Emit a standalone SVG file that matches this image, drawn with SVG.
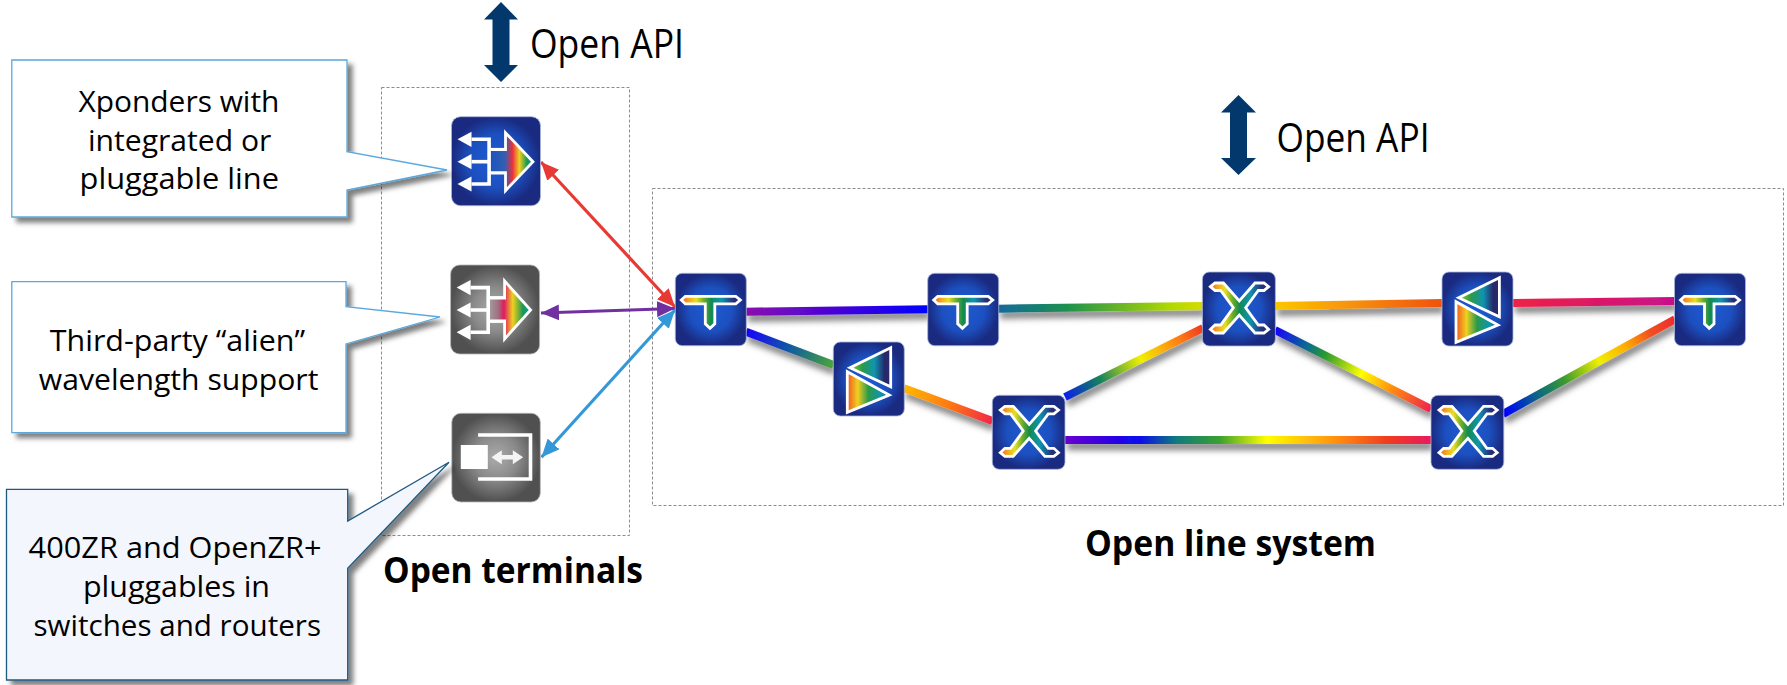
<svg xmlns="http://www.w3.org/2000/svg" xmlns:xlink="http://www.w3.org/1999/xlink" width="1787" height="685" viewBox="0 0 1787 685">
<style>
text{font-family:"Open Sans","Noto Sans","Liberation Sans",sans-serif;fill:#000}
.c{font-size:30px}
.a{font-size:40px}
.b{font-size:36px;font-weight:700}
.dash{fill:none;stroke:#8c8c8c;stroke-width:1;stroke-dasharray:3 2}
.blue{fill:url(#nb);stroke:#a9b6d8;stroke-width:.8}
.gray{fill:url(#ng);stroke:#b5b5b5;stroke-width:.8}
.rb{fill:none;stroke-width:8}
.ic{stroke:#fff;stroke-width:2.8;stroke-linejoin:miter}
.wl{fill:none;stroke:#fff;stroke-width:3.6}
.w{fill:#fff}
.call{stroke-width:1.3;filter:url(#cs)}
.thin{stroke-width:3.2;fill:none}
</style>
<defs>
<radialGradient id="nb"><stop offset="0" stop-color="#1e5ad2"/><stop offset=".6" stop-color="#1c50c0"/><stop offset="1" stop-color="#1a2a80"/></radialGradient>
<radialGradient id="ng"><stop offset="0" stop-color="#ababab"/><stop offset=".5" stop-color="#8a8a8a"/><stop offset="1" stop-color="#505050"/></radialGradient>
<linearGradient id="sp"><stop offset="0" stop-color="#f0561e"/><stop offset=".1" stop-color="#f49a1e"/><stop offset=".25" stop-color="#e8e020"/><stop offset=".38" stop-color="#6fae2a"/><stop offset=".5" stop-color="#128a50"/><stop offset=".68" stop-color="#1094b0"/><stop offset=".88" stop-color="#26307a"/><stop offset="1" stop-color="#2a2a6a"/></linearGradient>
<linearGradient id="up"><stop offset="0" stop-color="#a0c820"/><stop offset=".3" stop-color="#2a9a4a"/><stop offset=".6" stop-color="#1094b0"/><stop offset=".85" stop-color="#26286a"/><stop offset="1" stop-color="#2a2a6a"/></linearGradient>
<linearGradient id="lo"><stop offset="0" stop-color="#f0561e"/><stop offset=".25" stop-color="#f0d020"/><stop offset=".5" stop-color="#2a9a4a"/><stop offset=".8" stop-color="#1094b0"/><stop offset="1" stop-color="#1c5ab0"/></linearGradient>
<linearGradient id="xb" gradientUnits="userSpaceOnUse" x1="38" y1="0" x2="82" y2="0"><stop offset="0" stop-color="#1c52c0"/><stop offset=".35" stop-color="#3060b0"/><stop offset=".52" stop-color="#e83040"/><stop offset=".68" stop-color="#f0d020"/><stop offset=".85" stop-color="#1a9a50"/><stop offset="1" stop-color="#1490c0"/></linearGradient>
<linearGradient id="xg" gradientUnits="userSpaceOnUse" x1="38" y1="0" x2="82" y2="0"><stop offset="0" stop-color="#a0a0a0"/><stop offset=".22" stop-color="#a07080"/><stop offset=".35" stop-color="#e01a60"/><stop offset=".55" stop-color="#f0d020"/><stop offset=".78" stop-color="#1a9a50"/><stop offset="1" stop-color="#1490d0"/></linearGradient>

<linearGradient id="r1" gradientUnits="userSpaceOnUse" x1="746" y1="0" x2="1676" y2="0"><stop offset="0" stop-color="#8a0ab0"/><stop offset=".196" stop-color="#0000ff"/><stop offset=".273" stop-color="#146a9a"/><stop offset=".344" stop-color="#1c9050"/><stop offset=".456" stop-color="#b0d800"/><stop offset=".53" stop-color="#ffe000"/><stop offset=".75" stop-color="#f05010"/><stop offset=".826" stop-color="#ee2244"/><stop offset="1" stop-color="#c8108c"/></linearGradient>
<linearGradient id="r2" gradientUnits="userSpaceOnUse" x1="746" y1="331" x2="833" y2="365"><stop offset="0" stop-color="#1a00ff"/><stop offset=".5" stop-color="#0f5aa0"/><stop offset="1" stop-color="#4aa53a"/></linearGradient>
<linearGradient id="r3" gradientUnits="userSpaceOnUse" x1="904" y1="388" x2="992" y2="421"><stop offset="0" stop-color="#ffb800"/><stop offset=".5" stop-color="#ff7a10"/><stop offset="1" stop-color="#f02848"/></linearGradient>
<linearGradient id="r4" gradientUnits="userSpaceOnUse" x1="1065" y1="397" x2="1202" y2="328"><stop offset="0" stop-color="#0a20e8"/><stop offset=".25" stop-color="#138060"/><stop offset=".55" stop-color="#f0f000"/><stop offset=".8" stop-color="#ff8a10"/><stop offset="1" stop-color="#f03a20"/></linearGradient>
<linearGradient id="r5" gradientUnits="userSpaceOnUse" x1="1065" y1="0" x2="1432" y2="0"><stop offset="0" stop-color="#6a00d0"/><stop offset=".2" stop-color="#0808f0"/><stop offset=".3" stop-color="#107880"/><stop offset=".42" stop-color="#3aa030"/><stop offset=".55" stop-color="#ffff00"/><stop offset=".75" stop-color="#ff8810"/><stop offset=".88" stop-color="#f03a20"/><stop offset="1" stop-color="#e81a60"/></linearGradient>
<linearGradient id="r6" gradientUnits="userSpaceOnUse" x1="1275" y1="330" x2="1432" y2="409"><stop offset="0" stop-color="#1a00ff"/><stop offset=".2" stop-color="#0a6a90"/><stop offset=".32" stop-color="#2a9a30"/><stop offset=".55" stop-color="#ffff00"/><stop offset=".75" stop-color="#ff8a10"/><stop offset="1" stop-color="#ee2050"/></linearGradient>
<linearGradient id="r7" gradientUnits="userSpaceOnUse" x1="1505" y1="414" x2="1676" y2="319"><stop offset="0" stop-color="#0000ff"/><stop offset=".2" stop-color="#0a6a80"/><stop offset=".35" stop-color="#3a9a30"/><stop offset=".55" stop-color="#f0f000"/><stop offset=".7" stop-color="#ffb000"/><stop offset=".85" stop-color="#f05020"/><stop offset="1" stop-color="#ee2a30"/></linearGradient>

<filter id="ls" x="-5%" y="-20%" width="110%" height="140%"><feDropShadow dx="2" dy="6" stdDeviation="3" flood-color="#000" flood-opacity=".5"/></filter>
<filter id="cs" x="-5%" y="-5%" width="115%" height="115%"><feDropShadow dx="5" dy="5" stdDeviation="2.5" flood-color="#000" flood-opacity=".5"/></filter>

<marker id="mr" markerUnits="userSpaceOnUse" markerWidth="20" markerHeight="16" refX="18" refY="8" orient="auto-start-reverse"><path d="M0 0L18 8L0 16Z" fill="#e83a34"/></marker>
<marker id="mp" markerUnits="userSpaceOnUse" markerWidth="20" markerHeight="16" refX="18" refY="8" orient="auto-start-reverse"><path d="M0 0L18 8L0 16Z" fill="#7030a0"/></marker>
<marker id="mb" markerUnits="userSpaceOnUse" markerWidth="20" markerHeight="16" refX="18" refY="8" orient="auto-start-reverse"><path d="M0 0L18 8L0 16Z" fill="#3498d8"/></marker>

<polygon id="ti" class="ic" fill="url(#sp)" points="6,26.7 10,23 60.5,23 65,26.7 60.5,30.5 39.5,30.5 39.5,50.5 34.7,55 30,50.5 30,30.5 10,30.5"/>
<polygon id="xi" class="ic" fill="url(#sp)" points="8,14.7 12.6,11 21,11 36.9,29 52.6,11 61.6,11 66.2,14.7 61.6,18.5 55.9,18.5 43.3,35.7 55.9,53 61.6,53 66.2,57.3 61.6,61 52.6,61 36.9,43 20.9,61 12.6,61 8,57.3 12.6,53 18.3,53 30.9,35.7 18.3,18.5 12.6,18.5"/>
<g id="ai"><polygon class="ic" fill="url(#up)" points="57.4,5.7 57.4,44.7 16.7,25.7"/><polygon class="ic" fill="url(#lo)" points="14,29.7 14,70.3 56,53"/></g>
<g id="wa"><polyline class="wl" points="20,22.6 37.6,22.6 37.6,67.3 20,67.3"/><line class="wl" x1="20" y1="45" x2="37.6" y2="45"/><line class="wl" x1="37.6" y1="33" x2="54" y2="33"/><line class="wl" x1="37.6" y1="56" x2="54" y2="56"/><polygon class="w" points="6,22.6 20,15 20,30.2"/><polygon class="w" points="6,45 20,37.4 20,52.6"/><polygon class="w" points="6,67.3 20,59.7 20,74.9"/></g>
</defs>

<rect width="1787" height="685" fill="#fff"/>
<rect class="dash" x="381.5" y="87.5" width="248" height="448"/>
<rect class="dash" x="652.5" y="188.5" width="1131" height="317"/>

<g id="connectors">
<g filter="url(#ls)">
<line class="rb" x1="746" y1="311.7" x2="928" y2="309.3" stroke="url(#r1)"/>
<line class="rb" x1="998" y1="308.7" x2="1203" y2="306" stroke="url(#r1)"/>
<line class="rb" x1="1275" y1="306" x2="1442" y2="303" stroke="url(#r1)"/>
<line class="rb" x1="1513" y1="303" x2="1675" y2="301" stroke="url(#r1)"/>
<line class="rb" x1="746" y1="331.7" x2="833.5" y2="365" stroke="url(#r2)"/>
<line class="rb" x1="904" y1="388.3" x2="992.5" y2="421" stroke="url(#r3)"/>
<line class="rb" x1="1065" y1="397" x2="1203" y2="328" stroke="url(#r4)"/>
<line class="rb" x1="1065" y1="440" x2="1431" y2="440" stroke="url(#r5)"/>
<line class="rb" x1="1275" y1="330" x2="1431" y2="409" stroke="url(#r6)"/>
<line class="rb" x1="1503" y1="414" x2="1675" y2="319.3" stroke="url(#r7)"/>
</g>
<line class="thin" x1="541" y1="162" x2="675" y2="307" stroke="#e83a34" marker-start="url(#mr)" marker-end="url(#mr)"/>
<line class="thin" x1="541" y1="313" x2="675" y2="308.5" stroke="#7030a0" marker-start="url(#mp)" marker-end="url(#mp)"/>
<line class="thin" x1="541.5" y1="457.3" x2="675" y2="310" stroke="#3498d8" marker-start="url(#mb)" marker-end="url(#mb)"/>
</g>

<g id="api-arrow-1"><polygon fill="#03386c" points="501,2 518,19.5 509.5,19.5 509.5,65 518,65 501,82 484,65 492.5,65 492.5,19.5 484,19.5"/></g>
<text class="a" x="530" y="58" textLength="154" lengthAdjust="spacingAndGlyphs">Open API</text>
<g id="api-arrow-2"><polygon fill="#03386c" points="1238.5,95 1256,112.5 1247,112.5 1247,158 1256,158 1238.5,175 1221,158 1230,158 1230,112.5 1221,112.5"/></g>
<text class="a" x="1276.5" y="152" textLength="153" lengthAdjust="spacingAndGlyphs">Open API</text>

<g id="node-xponder" transform="translate(451.5 116.7)"><rect class="blue" width="89" height="89" rx="9"/><use href="#wa"/><polygon class="ic" fill="url(#xb)" points="38,33 54,33 54,16 81.5,45 54,74 54,56 38,56"/></g>
<g id="node-alien" transform="translate(450.6 265)"><rect class="gray" width="89" height="89" rx="9"/><use href="#wa"/><polygon class="ic" fill="url(#xg)" points="38,33 54,33 54,16 80,45 54,74 54,56 38,56"/></g>
<g id="node-pluggable" transform="translate(451.8 413.3)"><rect class="gray" width="88.5" height="88.7" rx="9"/><polyline class="wl" stroke="#f2f2f2" points="26.3,21.7 78.7,21.7 78.7,65.7 26.3,65.7"/><rect class="w" x="9" y="31.7" width="27" height="24"/><polygon fill="#f4f4f4" points="39.7,44 50,37 50,41.8 61,41.8 61,37 71.3,44 61,51 61,46.2 50,46.2 50,51"/></g>

<g id="node-t1" transform="translate(675.3 273.3)"><rect class="blue" width="71" height="72.4" rx="7"/><use href="#ti"/></g>
<g id="node-t2" transform="translate(927.7 273.3)"><rect class="blue" width="71" height="72.4" rx="7"/><use href="#ti"/></g>
<g id="node-t3" transform="translate(1674.5 273.3)"><rect class="blue" width="71" height="72.4" rx="7"/><use href="#ti"/></g>
<g id="node-amp1" transform="translate(833.3 342)"><rect class="blue" width="71" height="74" rx="7"/><use href="#ai"/></g>
<g id="node-amp2" transform="translate(1442 272)"><rect class="blue" width="71" height="74" rx="7"/><use href="#ai"/></g>
<g id="node-x1" transform="translate(992.3 395.3)"><rect class="blue" width="72.7" height="74" rx="7"/><use href="#xi"/></g>
<g id="node-x2" transform="translate(1202.4 272)"><rect class="blue" width="73" height="74" rx="7"/><use href="#xi"/></g>
<g id="node-x3" transform="translate(1431 395.3)"><rect class="blue" width="72.8" height="74" rx="7"/><use href="#xi"/></g>

<g id="callout-xponders">
<polygon class="call" fill="#fff" stroke="#5aa8dc" points="11.8,60 347,60 347,151.7 447,170 347,190 347,217 11.8,217"/>
<text class="c" x="78.4" y="112" textLength="201" lengthAdjust="spacingAndGlyphs">Xponders with</text>
<text class="c" x="88" y="150.5" textLength="183.4" lengthAdjust="spacingAndGlyphs">integrated or</text>
<text class="c" x="79.6" y="188.5" textLength="199.4" lengthAdjust="spacingAndGlyphs">pluggable line</text>
</g>
<g id="callout-alien">
<polygon class="call" fill="#fff" stroke="#5aa8dc" points="11.8,281.7 346,281.7 346,306.7 440,317 346,344 346,432.7 11.8,432.7"/>
<text class="c" x="49.8" y="351" textLength="255.2" lengthAdjust="spacingAndGlyphs">Third-party “alien”</text>
<text class="c" x="38.8" y="389.5" textLength="279.6" lengthAdjust="spacingAndGlyphs">wavelength support</text>
</g>
<g id="callout-pluggables">
<polygon class="call" fill="#f3f6fc" stroke="#1f5a80" points="6.5,489.3 347.7,489.3 347.7,521 449,462.3 347.7,568.3 347.7,680 6.5,680"/>
<text class="c" x="28.6" y="558" textLength="293" lengthAdjust="spacingAndGlyphs">400ZR and OpenZR+</text>
<text class="c" x="83" y="597" textLength="187" lengthAdjust="spacingAndGlyphs">pluggables in</text>
<text class="c" x="33.5" y="635.5" textLength="287.5" lengthAdjust="spacingAndGlyphs">switches and routers</text>
</g>
<text class="b" x="383" y="582.5" textLength="260" lengthAdjust="spacingAndGlyphs">Open terminals</text>
<text class="b" x="1085" y="555.5" textLength="291" lengthAdjust="spacingAndGlyphs">Open line system</text>
</svg>
